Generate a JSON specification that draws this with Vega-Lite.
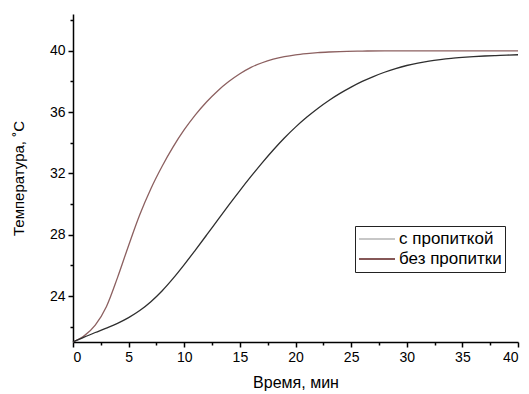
{
  "$schema": "https://vega.github.io/schema/vega-lite/v6.json",
  "width": 445,
  "height": 328,
  "autosize": {"type": "none"},
  "padding": {"left": 73, "top": 14, "right": 11, "bottom": 52},
  "background": "white",
  "config": {
    "view": {"stroke": null},
    "font": "Liberation Sans",
    "axis": {"grid": false, "domainColor": "black", "tickColor": "black", "labelColor": "black", "titleColor": "black", "labelFont": "Liberation Sans", "titleFont": "Liberation Sans", "titleFontWeight": "normal", "labelFontSize": 14, "titleFontSize": 16, "domainWidth": 1.5, "tickWidth": 1.5}
  },
  "data": {"values": [
    {"t": 0, "T": 21.0, "s": "без пропитки"},
    {"t": 1, "T": 21.4, "s": "без пропитки"},
    {"t": 2, "T": 22.1, "s": "без пропитки"},
    {"t": 3, "T": 23.3, "s": "без пропитки"},
    {"t": 4, "T": 25.2, "s": "без пропитки"},
    {"t": 5, "T": 27.3, "s": "без пропитки"},
    {"t": 6, "T": 29.3, "s": "без пропитки"},
    {"t": 7, "T": 31.0, "s": "без пропитки"},
    {"t": 8, "T": 32.45, "s": "без пропитки"},
    {"t": 9, "T": 33.73, "s": "без пропитки"},
    {"t": 10, "T": 34.85, "s": "без пропитки"},
    {"t": 11, "T": 35.82, "s": "без пропитки"},
    {"t": 12, "T": 36.66, "s": "без пропитки"},
    {"t": 13, "T": 37.38, "s": "без пропитки"},
    {"t": 14, "T": 37.99, "s": "без пропитки"},
    {"t": 15, "T": 38.5, "s": "без пропитки"},
    {"t": 16, "T": 38.92, "s": "без пропитки"},
    {"t": 17, "T": 39.22, "s": "без пропитки"},
    {"t": 18, "T": 39.45, "s": "без пропитки"},
    {"t": 19, "T": 39.62, "s": "без пропитки"},
    {"t": 20, "T": 39.74, "s": "без пропитки"},
    {"t": 21, "T": 39.82, "s": "без пропитки"},
    {"t": 22, "T": 39.88, "s": "без пропитки"},
    {"t": 23, "T": 39.92, "s": "без пропитки"},
    {"t": 24, "T": 39.95, "s": "без пропитки"},
    {"t": 26, "T": 39.98, "s": "без пропитки"},
    {"t": 28, "T": 40.0, "s": "без пропитки"},
    {"t": 32, "T": 40.0, "s": "без пропитки"},
    {"t": 36, "T": 40.0, "s": "без пропитки"},
    {"t": 40, "T": 40.0, "s": "без пропитки"},
    {"t": 0, "T": 21.0, "s": "с пропиткой"},
    {"t": 1, "T": 21.32, "s": "с пропиткой"},
    {"t": 2, "T": 21.62, "s": "с пропиткой"},
    {"t": 3, "T": 21.91, "s": "с пропиткой"},
    {"t": 4, "T": 22.22, "s": "с пропиткой"},
    {"t": 5, "T": 22.59, "s": "с пропиткой"},
    {"t": 6, "T": 23.05, "s": "с пропиткой"},
    {"t": 7, "T": 23.63, "s": "с пропиткой"},
    {"t": 8, "T": 24.33, "s": "с пропиткой"},
    {"t": 9, "T": 25.15, "s": "с пропиткой"},
    {"t": 10, "T": 26.05, "s": "с пропиткой"},
    {"t": 11, "T": 27.0, "s": "с пропиткой"},
    {"t": 12, "T": 27.97, "s": "с пропиткой"},
    {"t": 13, "T": 28.95, "s": "с пропиткой"},
    {"t": 14, "T": 29.93, "s": "с пропиткой"},
    {"t": 15, "T": 30.88, "s": "с пропиткой"},
    {"t": 16, "T": 31.8, "s": "с пропиткой"},
    {"t": 17, "T": 32.69, "s": "с пропиткой"},
    {"t": 18, "T": 33.53, "s": "с пропиткой"},
    {"t": 19, "T": 34.31, "s": "с пропиткой"},
    {"t": 20, "T": 35.02, "s": "с пропиткой"},
    {"t": 21, "T": 35.66, "s": "с пропиткой"},
    {"t": 22, "T": 36.24, "s": "с пропиткой"},
    {"t": 23, "T": 36.76, "s": "с пропиткой"},
    {"t": 24, "T": 37.22, "s": "с пропиткой"},
    {"t": 25, "T": 37.63, "s": "с пропиткой"},
    {"t": 26, "T": 38.0, "s": "с пропиткой"},
    {"t": 27, "T": 38.32, "s": "с пропиткой"},
    {"t": 28, "T": 38.6, "s": "с пропиткой"},
    {"t": 29, "T": 38.84, "s": "с пропиткой"},
    {"t": 30, "T": 39.04, "s": "с пропиткой"},
    {"t": 31, "T": 39.2, "s": "с пропиткой"},
    {"t": 32, "T": 39.33, "s": "с пропиткой"},
    {"t": 33, "T": 39.43, "s": "с пропиткой"},
    {"t": 34, "T": 39.51, "s": "с пропиткой"},
    {"t": 35, "T": 39.57, "s": "с пропиткой"},
    {"t": 36, "T": 39.62, "s": "с пропиткой"},
    {"t": 37, "T": 39.66, "s": "с пропиткой"},
    {"t": 38, "T": 39.69, "s": "с пропиткой"},
    {"t": 39, "T": 39.72, "s": "с пропиткой"},
    {"t": 40, "T": 39.74, "s": "с пропиткой"}
  ]},
  "resolve": {"axis": {"x": "independent", "y": "independent"}},
  "layer": [
    {
      "mark": {"type": "line", "interpolate": "monotone", "opacity": 0, "strokeWidth": 1.5},
      "encoding": {
        "x": {"field": "t", "type": "quantitative", "scale": {"domain": [0, 40], "nice": false},
          "axis": {"orient": "bottom", "values": [2.5, 7.5, 12.5, 17.5, 22.5, 27.5, 32.5, 37.5], "labels": false, "tickSize": 3, "domain": false, "title": null}},
        "y": {"field": "T", "type": "quantitative", "scale": {"domain": [21, 42.4], "nice": false, "zero": false},
          "axis": {"orient": "left", "values": [22, 26, 30, 34, 38, 42], "labels": false, "tickSize": 3, "domain": false, "title": null}},
        "color": {"field": "s", "type": "nominal",
          "scale": {"domain": ["с пропиткой", "без пропитки"], "range": ["#b4b4b4", "#5c1f1f"]},
          "legend": {"orient": "none", "legendX": 282, "legendY": 212, "title": null, "symbolType": "stroke", "symbolSize": 1300, "clipHeight": 20, "symbolStrokeWidth": 1.5, "symbolOpacity": 1, "labelFontSize": 17, "labelFont": "Liberation Sans", "labelColor": "black", "strokeColor": "#222", "padding": 3, "rowPadding": 0, "labelOffset": 3}}
      }
    },
    {
      "mark": {"type": "line", "interpolate": "monotone", "strokeWidth": 1.3},
      "encoding": {
        "x": {"field": "t", "type": "quantitative", "scale": {"domain": [0, 40], "nice": false},
          "axis": {"orient": "bottom", "values": [0, 5, 10, 15, 20, 25, 30, 35, 40], "tickSize": 5, "labelPadding": 3, "title": "Время, мин", "titlePadding": 10}},
        "y": {"field": "T", "type": "quantitative", "scale": {"domain": [21, 42.4], "nice": false, "zero": false},
          "axis": {"orient": "left", "values": [24, 28, 32, 36, 40], "tickSize": 5, "labelPadding": 3, "title": "Температура, ˚С", "titleFontSize": 15, "titlePadding": 23}},
        "stroke": {"field": "s", "type": "nominal",
          "scale": {"domain": ["с пропиткой", "без пропитки"], "range": ["#2e2e2e", "#8c6060"]},
          "legend": null}
      }
    }
  ]
}
